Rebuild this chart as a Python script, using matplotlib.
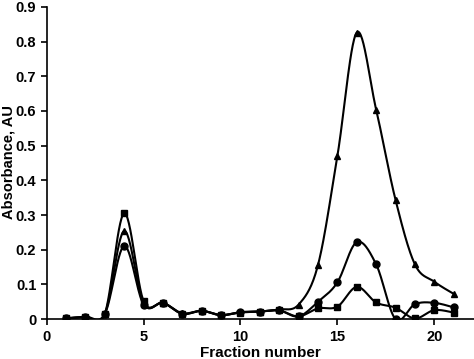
import matplotlib.pyplot as plt
import numpy as np
import matplotlib

matplotlib.rc('font', family='Liberation Sans', weight='bold', size=10)

fractions = list(range(1, 22))
triangle_vals = [0.003, 0.007, 0.015, 0.254, 0.045, 0.047, 0.017, 0.024, 0.012, 0.020,
                 0.022, 0.028, 0.042, 0.156, 0.470, 0.826, 0.604, 0.344, 0.158, 0.108, 0.073]
circle_vals = [0.002, 0.007, 0.015, 0.211, 0.042, 0.047, 0.015, 0.024, 0.011, 0.020,
               0.022, 0.025, 0.008, 0.050, 0.106, 0.222, 0.158, 0.000, 0.043, 0.047, 0.034]
square_vals = [0.002, 0.007, 0.016, 0.305, 0.052, 0.047, 0.016, 0.024, 0.012, 0.019,
               0.022, 0.025, 0.008, 0.031, 0.036, 0.093, 0.048, 0.033, 0.002, 0.026, 0.019]


def smooth(x, y, n=30):
    # Catmull-Rom style smoothing like the spreadsheet "smoothed line"
    x = np.asarray(x, float)
    y = np.asarray(y, float)
    px = np.concatenate([[x[0]], x, [x[-1]]])
    py = np.concatenate([[y[0]], y, [y[-1]]])
    xs, ys = [], []
    t = np.linspace(0, 1, n)
    for i in range(1, len(px) - 2):
        p0, p1, p2, p3 = (np.array([px[j], py[j]]) for j in (i - 1, i, i + 1, i + 2))
        c1 = p1 + (p2 - p0) / 6
        c2 = p2 - (p3 - p1) / 6
        b = ((1 - t) ** 3)[:, None] * p1 + (3 * (1 - t) ** 2 * t)[:, None] * c1 \
            + (3 * (1 - t) * t ** 2)[:, None] * c2 + (t ** 3)[:, None] * p2
        xs.extend(b[:, 0])
        ys.extend(b[:, 1])
    return xs, ys


fig = plt.figure(figsize=(4.74, 3.59), dpi=100)
ax = fig.add_axes([0.0985, 0.111, 0.9015, 0.870])

for vals, mk, ms in [(triangle_vals, '^', 5), (circle_vals, 'o', 5), (square_vals, 's', 5)]:
    sx, sy = smooth(fractions, vals)
    ax.plot(sx, sy, color='black', lw=1.5)
    ax.plot(fractions, vals, ls='none', marker=mk, ms=ms, color='black')

ax.set_xlim(0, 22.05)
ax.set_ylim(0, 0.9)
ax.set_xticks([0, 5, 10, 15, 20])
ax.set_yticks(np.arange(0, 0.91, 0.1))
ax.set_yticklabels(['0'] + ['%.1f' % v for v in np.arange(0.1, 0.91, 0.1)])
ax.spines['top'].set_visible(False)
ax.spines['right'].set_visible(False)
ax.spines['left'].set_linewidth(1.2)
ax.spines['bottom'].set_linewidth(1.2)
ax.tick_params(direction='out', length=4, width=1.2, labelsize=10.5)
ax.set_xlabel('Fraction number', fontsize=11, fontweight='bold', labelpad=2)
ax.set_ylabel('Absorbance, AU', fontsize=10.5, fontweight='bold')
ax.yaxis.set_label_coords(-0.074, 0.503)

fig.savefig('out.png', dpi=100)
